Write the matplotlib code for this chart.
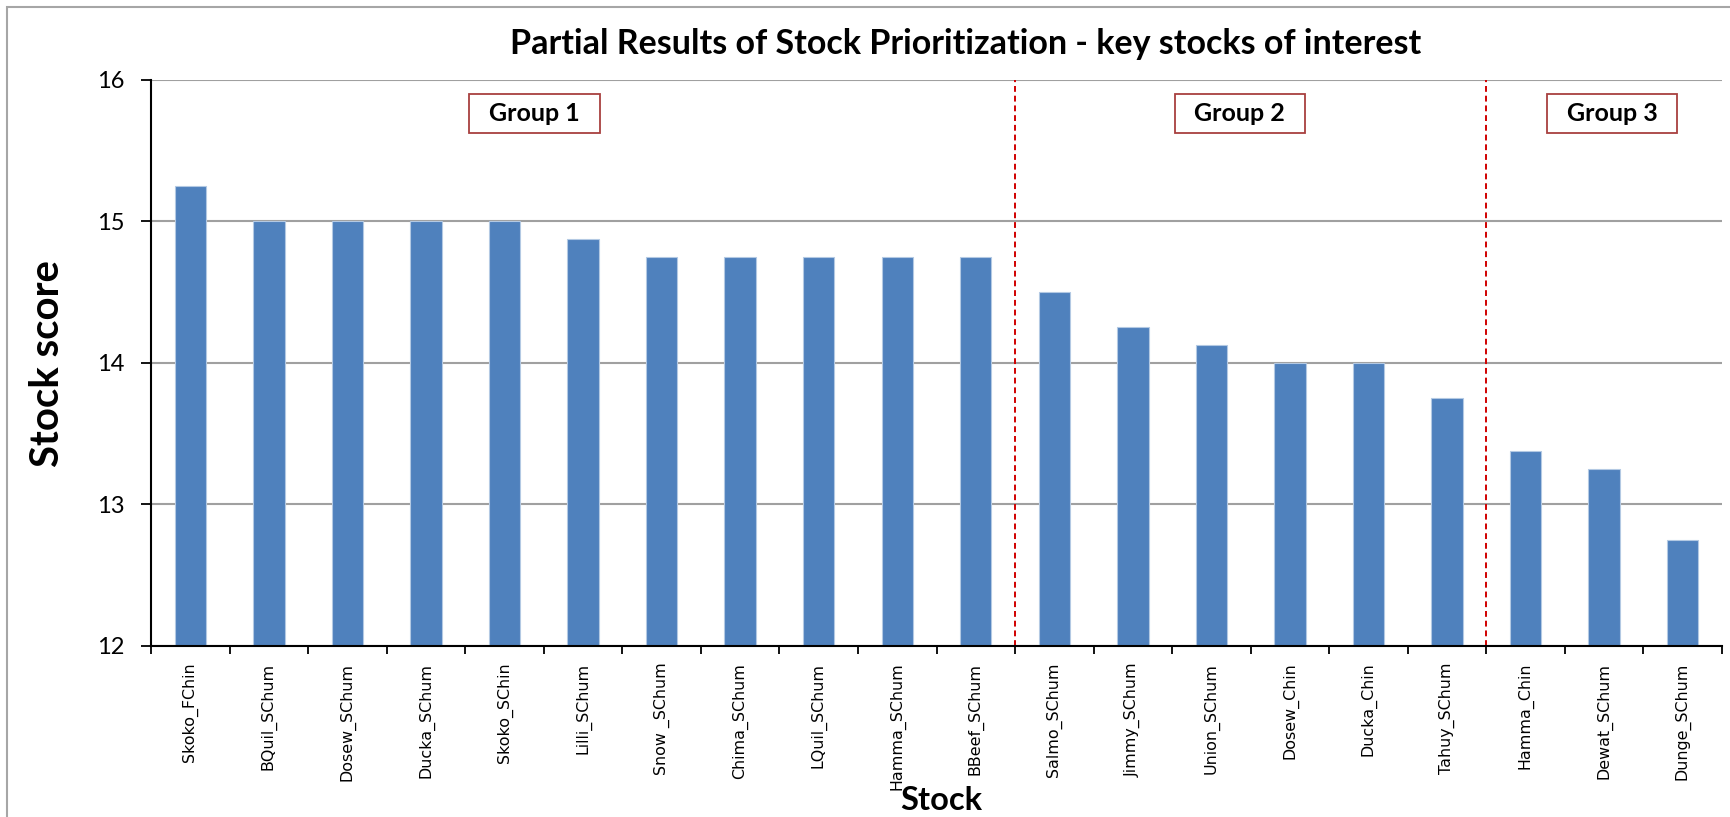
import numpy as np
import matplotlib.pyplot as plt
from matplotlib.patches import Rectangle

# dati
stocks = ['Skoko_FChin', 'BQuil_SChum', 'Dosew_SChum', 'Ducka_SChum', 'Skoko_SChin',
          'Lilli_SChum', 'Snow _SChum', 'Chima_SChum', 'LQuil_SChum', 'Hamma_SChum',
          'BBeef_SChum', 'Salmo_SChum', 'Jimmy_SChum', 'Union_SChum', 'Dosew_Chin',
          'Ducka_Chin', 'Tahuy_SChum', 'Hamma_Chin', 'Dewat_SChum', 'Dunge_SChum']
scores = [15.25, 15.0, 15.0, 15.0, 15.0,
          14.875, 14.75, 14.75, 14.75, 14.75,
          14.75, 14.5, 14.25, 14.125, 14.0,
          14.0, 13.75, 13.375, 13.25, 12.75]
groups = ['Group 1', 'Group 2', 'Group 3']
group_sizes = [11, 6, 3]
yticks = [12, 13, 14, 15, 16]

W, H = 1730, 817
fig = plt.figure(figsize=(W / 100, H / 100), dpi=100)
ax = fig.add_axes([151 / W, 1 - 646 / H, (1722 - 151) / W, (646 - 79.5) / H])

# cornice grigia della figura
fig.patches.append(Rectangle((7 / W, -0.1), 1.2, 1.1 - 7 / H, transform=fig.transFigure,
                             fill=False, edgecolor='#a6a6a6', linewidth=1.5))

x = np.arange(len(stocks))
ax.bar(x, [s - 12 for s in scores], bottom=12, width=0.4, color='#4f81bd',
       edgecolor='#b3c9e3', linewidth=0.8, zorder=3)

ax.set_xlim(-0.5, len(stocks) - 0.5)
ax.set_ylim(12, 16)
ax.set_yticks(yticks)
ax.set_yticklabels([str(t) for t in yticks], fontfamily='Lato', fontsize=17)
ax.yaxis.grid(True, color='#a0a0a0', linewidth=1.5, zorder=0)

ax.set_xticks(x)
ax.set_xticklabels(stocks, rotation=90, fontfamily='DejaVu Sans', fontsize=11.4)
ax.set_xticks(np.arange(-0.5, len(stocks)), minor=True)
ax.tick_params(axis='x', which='major', length=0, pad=12)
ax.tick_params(axis='x', which='minor', length=6, width=1.3, direction='out')
ax.tick_params(axis='y', length=7, width=1.3, direction='out', pad=12)

for s in ['top', 'right']:
    ax.spines[s].set_visible(False)
for s in ['left', 'bottom']:
    ax.spines[s].set_linewidth(1.5)
    ax.spines[s].set_zorder(4)

# separatori dei gruppi e riquadri
edges = np.cumsum(group_sizes)
for e in edges[:-1]:
    ax.axvline(e - 0.5, color='#d00000', linestyle=(0, (3, 2)), linewidth=1.4, zorder=4)

box_x = [4.38, 13.36, 18.1]
for name, bx in zip(groups, box_x):
    ax.add_patch(Rectangle((bx - 0.83, 15.76 - 0.138), 1.66, 0.276, fill=True,
                           facecolor='white', edgecolor='#a8403f', linewidth=1.3, zorder=5))
    ax.text(bx, 15.76, name, ha='center', va='center', fontfamily='Lato',
            fontweight='bold', fontsize=18, zorder=6)

fig.text(966 / W, 1 - 44 / H, 'Partial Results of Stock Prioritization - key stocks of interest',
         ha='center', va='center', fontfamily='Lato', fontweight='bold', fontsize=24.5)
fig.text(47.5 / W, 1 - 364 / H, 'Stock score', rotation=90, ha='center', va='center',
         fontfamily='Lato', fontweight='bold', fontsize=28.8)
fig.text(941 / W, 1 - 801 / H, 'Stock', ha='center', va='center',
         fontfamily='Lato', fontweight='bold', fontsize=23.5)

fig.savefig('out.png', dpi=100)
